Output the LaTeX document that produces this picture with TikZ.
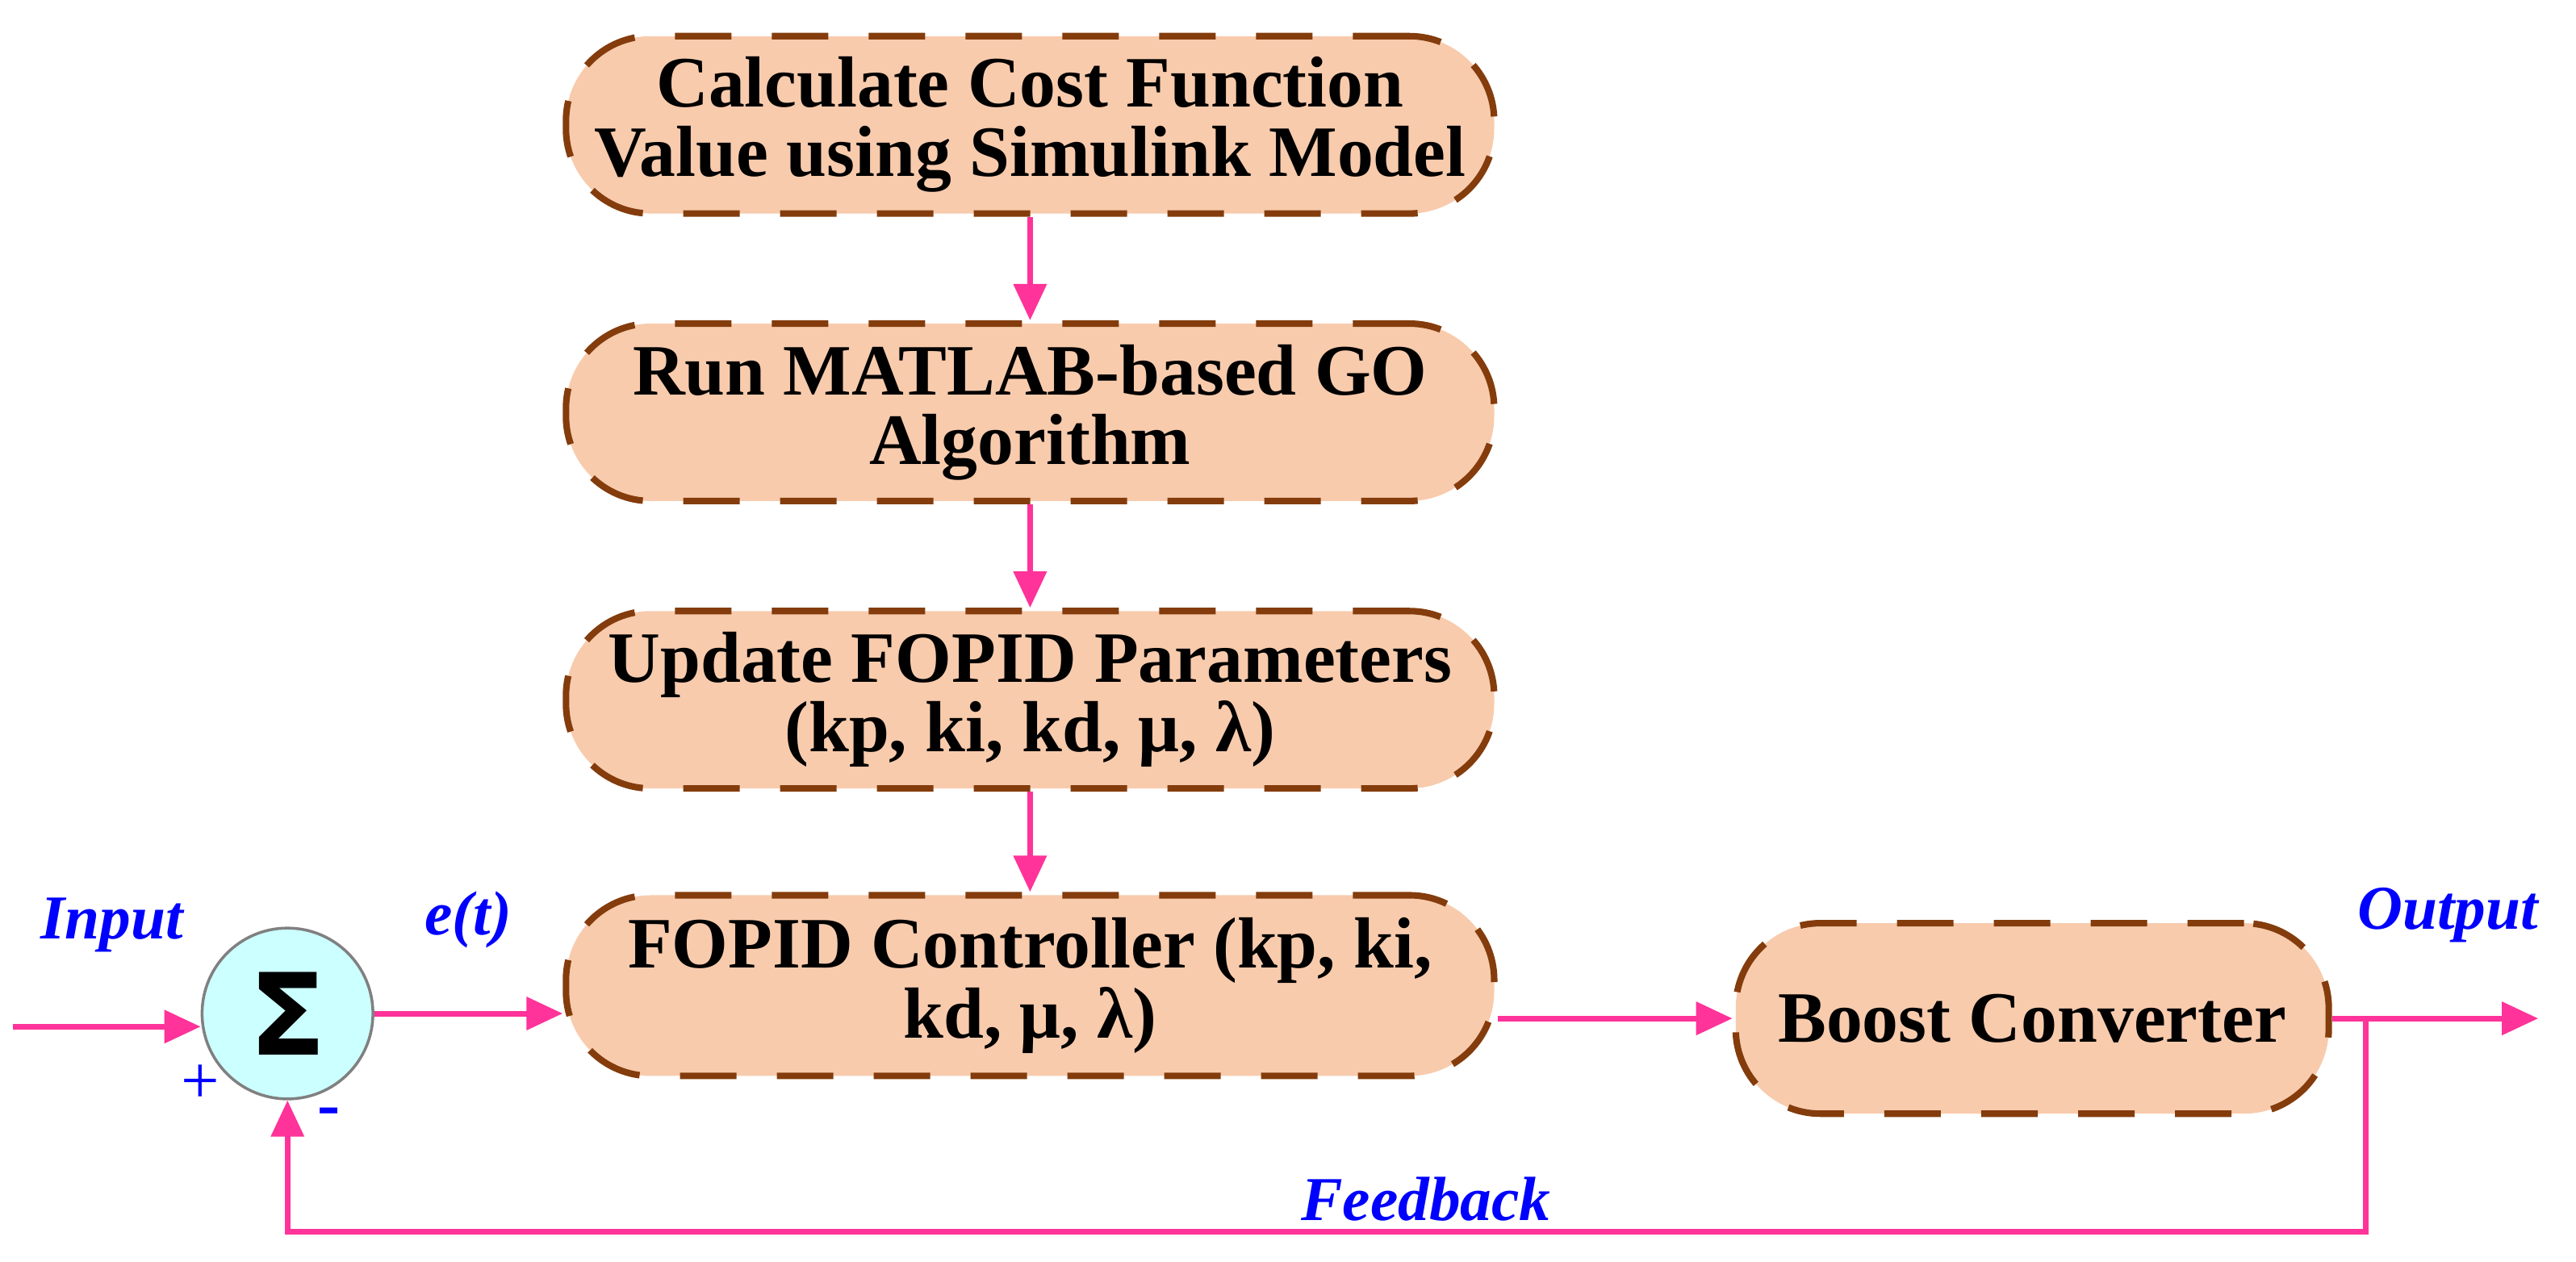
\documentclass[tikz,border=0pt]{standalone}
\usepackage{fontspec}
\setmainfont{Liberation Serif}
\newfontfamily\sumfont{DejaVu Sans}
\usetikzlibrary{arrows.meta}
\definecolor{peach}{HTML}{F8CBAD}
\definecolor{brownb}{HTML}{843C0C}
\definecolor{pinkl}{HTML}{FF3399}
\definecolor{cyanl}{HTML}{CCFFFF}
\begin{document}
\begin{tikzpicture}[x=0.02036cm,y=-0.02036cm,
 box/.style={draw=brownb,fill=peach,line width=2.3pt,dash pattern=on 0.7cm off 0.5cm,rounded corners=1.05cm,align=center,font=\fontsize{25.5}{24.5}\selectfont\bfseries,inner sep=0pt},
 arr/.style={draw=pinkl,line width=2pt,-{Triangle[length=0.45cm,width=0.4cm]}},
 lbl/.style={text=blue,font=\fontsize{22}{26}\selectfont\bfseries\itshape}]
\useasboundingbox (0,0) rectangle (1568,768);
\node[box,minimum width=565*0.02036cm,minimum height=108*0.02036cm] (b1) at (627,76) {Calculate Cost Function\\Value using Simulink Model};
\node[box,minimum width=565*0.02036cm,minimum height=108*0.02036cm] (b2) at (627,251) {Run MATLAB-based GO\\Algorithm};
\node[box,minimum width=565*0.02036cm,minimum height=108*0.02036cm] (b3) at (627,426) {Update FOPID Parameters\\(kp, ki, kd, μ, λ)};
\node[box,minimum width=565*0.02036cm,minimum height=110*0.02036cm] (b4) at (627,600) {FOPID Controller (kp, ki,\\kd, μ, λ)};
\node[box,minimum width=361*0.02036cm,minimum height=116*0.02036cm] (b5) at (1237,620) {Boost Converter};
\node[circle,draw=gray,fill=cyanl,line width=1pt,minimum size=104*0.02036cm,inner sep=0pt,font=\sumfont\fontsize{40}{40}\selectfont\bfseries] (s) at (175,617) {Σ};
\coordinate (in) at (8,625);
\coordinate (out) at (1545,620);
\coordinate (tap) at (1440,620);
\coordinate (fb1) at (1440,750);
\coordinate (fb2) at (175,750);
\draw[arr] (b1) -- (b2);
\draw[arr] (b2) -- (b3);
\draw[arr] (b3) -- (b4);
\draw[arr] (in) -- (s.west|-in);
\draw[arr] (s.east) -- (b4.west|-s.east);
\draw[arr] (b4.east|-b5) -- (b5.west);
\draw[arr] (b5.east) -- (out);
\draw[arr] (tap) -- (fb1) -- (fb2) -- (s.south);
\node[lbl] (li) at (68,563) {Input};
\node[lbl] (le) at (285,560) {e(t)};
\node[lbl] (lo) at (1490,557) {Output};
\node[lbl] (lf) at (868,730) {Feedback};
\node[text=blue,font=\fontsize{24}{26}\selectfont] (lp) at (122,660) {+};
\node[text=blue,font=\fontsize{24}{26}\selectfont\bfseries] (lm) at (200,680) {-};
\end{tikzpicture}
\end{document}
